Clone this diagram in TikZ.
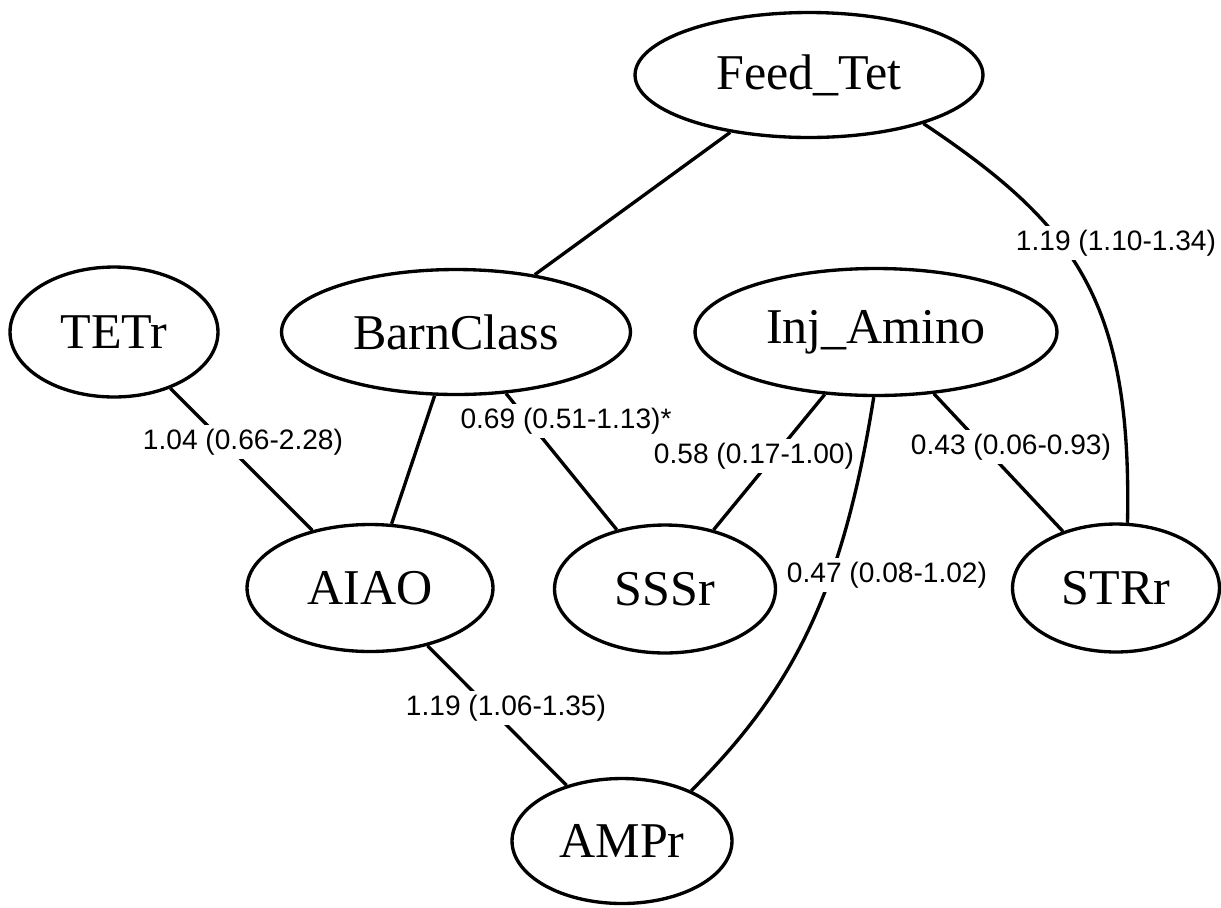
\documentclass[tikz,border=0pt]{standalone}
\usepackage{fontspec}
\setmainfont{Liberation Serif}
\newfontfamily\lblfont{Liberation Sans}
\usetikzlibrary{shapes.geometric}

\tikzstyle{var} = [ellipse, draw=black, line width=1.9pt, inner sep=0pt, font=\fontsize{28.5}{34}\selectfont]
\tikzstyle{link} = [line width=1.9pt]
\tikzstyle{est} = [fill=white, inner sep=2pt, font=\lblfont\fontsize{16}{19}\selectfont]

\begin{document}
\begin{tikzpicture}[x=0.02cm, y=-0.02cm]
\useasboundingbox (0,0) rectangle (1221,907);

% Nodes
\node (feed) [var, minimum width=6.96cm, minimum height=2.5cm] at (809,75) {Feed\_Tet};
\node (tetr) [var, minimum width=4.16cm, minimum height=2.6cm] at (114,332) {TETr};
\node (barn) [var, minimum width=6.98cm, minimum height=2.5cm] at (456,332) {BarnClass};
\node (inj) [var, minimum width=7.24cm, minimum height=2.54cm] at (876,332) {Inj\_Amino};
\node (aiao) [var, minimum width=4.92cm, minimum height=2.54cm] at (370,588) {AIAO};
\node (sssr) [var, minimum width=4.42cm, minimum height=2.56cm] at (665,589) {SSSr};
\node (strr) [var, minimum width=4.14cm, minimum height=2.56cm] at (1116,588) {STRr};
\node (ampr) [var, minimum width=4.4cm, minimum height=2.5cm] at (622,841) {AMPr};

% Edges
\draw [link] (feed) -- (barn);
\draw [link] (feed.-23) .. controls (1075,225) and (1132,300) .. (strr.80);
\draw [link] (tetr) -- (aiao);
\draw [link] (barn) -- (aiao);
\draw [link] (barn) -- (sssr);
\draw [link] (inj) -- (sssr);
\draw [link] (inj) -- (strr);
\draw [link] (inj.-92) .. controls (842,597) and (790,692) .. (ampr.36);
\draw [link] (aiao) -- (ampr);

% Estimates (drawn over the edges)
\node (eFS) [est] at (1116,243) {1.19 (1.10-1.34)};
\node (eTA) [est] at (243,442) {1.04 (0.66-2.28)};
\node (eBS) [est] at (566,421) {0.69 (0.51-1.13)*};
\node (eIS) [est] at (754,456) {0.58 (0.17-1.00)};
\node (eIT) [est] at (1011,447) {0.43 (0.06-0.93)};
\node (eIA) [est] at (887,575) {0.47 (0.08-1.02)};
\node (eAA) [est] at (506,708) {1.19 (1.06-1.35)};

\end{tikzpicture}
\end{document}
